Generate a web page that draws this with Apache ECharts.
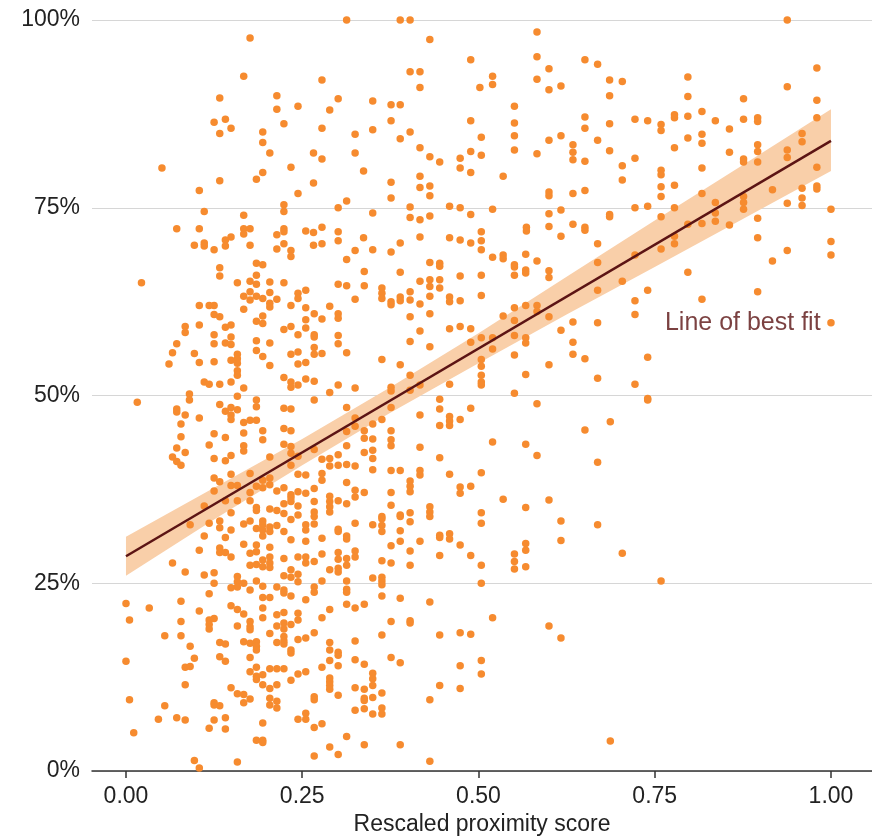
<!DOCTYPE html>
<html><head><meta charset="utf-8">
<script src="https://cdn.jsdelivr.net/npm/echarts@6/dist/echarts.min.js"></script>
<style>html,body{margin:0;padding:0;background:#fff}#c{width:872px;height:836px}</style>
</head><body><div id="c"></div>
<script>
// tick values
const xTicks = [0, 0.25, 0.5, 0.75, 1];
const yTicks = [0, 25, 50, 75, 100];
// fitted line (rescaled proximity score -> percent)
const fitX = [0, 1];
const fitY = [28.6, 83.9];
// confidence band
const bandX = [0, 0.125, 0.25, 0.375, 0.5, 0.625, 0.75, 0.875, 1];
const bandLow = [26.0, 33.5, 40.7, 47.7, 54.3, 60.8, 67.1, 73.5, 79.9];
const bandHigh = [31.2, 37.7, 44.2, 51.1, 58.3, 65.8, 73.3, 80.7, 88.1];
// annotation
const annotText = 'Line of best fit';
const annotPos = [0.7645, 59.6];
// observations: [rescaled proximity score, percent]
const points = [
[0.176,97.6],[0.167,92.5],[0.133,89.6],[0.214,89.9],[0.214,88.1],[0.244,88.5],[0.125,86.4],[0.141,86.8],[0.133,84.9],[0.149,85.6],[0.224,86.2],[0.194,85.1],[0.194,83.7],[0.204,82.3],[0.051,80.3],[0.234,80.4],[0.194,79.7],[0.185,78.8],[0.133,78.6],[0.104,77.3],[0.244,76.9],
[0.111,74.5],[0.167,74.0],[0.224,75.4],[0.224,74.5],[0.072,72.2],[0.104,72.2],[0.167,72.2],[0.176,72.2],[0.167,71.5],[0.224,72.2],[0.224,71.8],[0.214,71.4],[0.149,71.1],[0.141,70.7],[0.141,69.9],[0.097,70.0],[0.111,70.3],[0.111,69.9],[0.125,69.4],[0.176,70.0],[0.224,70.2],[0.214,69.5],[0.234,69.3],[0.234,68.5],[0.185,67.6],[0.194,67.4],[0.133,67.0],
[0.313,100],[0.389,100],[0.403,100],[0.431,97.4],[0.489,94.7],[0.278,92.0],[0.403,93.1],[0.417,93.1],[0.417,91.0],[0.502,91.0],[0.301,89.5],[0.289,88.0],[0.350,89.2],[0.376,88.7],[0.389,88.7],[0.376,86.6],[0.278,85.6],[0.350,85.4],[0.325,84.8],[0.403,85.1],[0.389,84.2],[0.489,86.6],[0.504,84.4],[0.266,82.3],[0.278,81.5],[0.325,82.3],[0.417,83.0],[0.431,81.8],[0.445,81.1],[0.474,81.6],[0.474,80.3],[0.489,82.5],[0.489,79.7],[0.504,82.0],[0.337,79.9],[0.266,78.3],[0.376,78.4],[0.417,79.2],[0.417,77.7],[0.431,77.9],[0.431,76.6],[0.313,75.9],[0.301,75.0],[0.376,76.3],[0.403,75.1],[0.459,75.2],[0.474,75.0],[0.489,74.1],[0.350,74.3],[0.403,73.7],[0.417,73.4],[0.431,73.9],[0.255,71.9],[0.266,71.7],[0.278,72.4],[0.301,71.8],[0.301,70.6],[0.266,70.0],[0.278,70.2],[0.337,71.0],[0.325,69.3],[0.313,68.1],[0.350,69.4],[0.376,69.1],[0.389,70.3],[0.417,71.1],[0.459,71.0],[0.474,70.7],[0.489,70.3],[0.504,71.8],[0.504,70.6],[0.504,69.4],[0.431,67.7],[0.445,67.6],[0.445,67.2],
[0.583,98.4],[0.583,95.1],[0.583,92.1],[0.600,93.5],[0.600,90.7],[0.617,91.2],[0.520,92.5],[0.520,91.4],[0.651,94.7],[0.669,94.1],[0.686,92.0],[0.686,89.9],[0.704,91.8],[0.551,88.5],[0.551,86.3],[0.551,84.6],[0.551,82.7],[0.583,82.2],[0.600,84.0],[0.617,84.6],[0.634,83.4],[0.634,82.4],[0.634,81.4],[0.651,87.1],[0.651,85.6],[0.651,81.2],[0.669,84.0],[0.686,86.2],[0.686,82.6],[0.704,80.6],[0.704,78.7],[0.722,86.8],[0.722,81.6],[0.740,86.6],[0.759,86.1],[0.759,85.3],[0.535,79.2],[0.600,77.1],[0.600,76.6],[0.634,76.9],[0.651,77.3],[0.520,74.8],[0.600,74.2],[0.617,74.7],[0.600,72.5],[0.634,72.8],[0.651,72.4],[0.651,72.0],[0.617,71.2],[0.568,72.4],[0.568,71.9],[0.669,70.2],[0.686,74.1],[0.686,73.8],[0.722,75.0],[0.740,75.2],[0.759,80.0],[0.759,79.4],[0.759,77.8],[0.759,76.5],[0.759,73.8],[0.520,68.4],[0.535,68.7],[0.535,68.2],[0.551,67.4],[0.551,67.1],[0.567,68.8],[0.583,67.9],[0.669,67.7],[0.722,68.7],
[0.938,100],[0.980,93.6],[0.938,91.1],[0.797,92.4],[0.797,89.8],[0.876,89.5],[0.980,89.3],[0.778,87.4],[0.778,87.0],[0.797,87.2],[0.817,87.8],[0.836,86.6],[0.856,85.5],[0.876,86.8],[0.896,87.0],[0.896,86.5],[0.980,87.0],[0.797,84.3],[0.817,84.8],[0.817,83.6],[0.778,83.0],[0.856,82.4],[0.876,81.5],[0.876,81.1],[0.896,83.4],[0.896,82.5],[0.896,81.1],[0.938,82.7],[0.938,81.7],[0.959,84.9],[0.959,83.8],[0.980,80.4],[0.980,77.9],[0.980,77.5],[0.817,80.3],[0.778,78.0],[0.817,76.9],[0.836,75.7],[0.836,74.3],[0.836,73.2],[0.876,76.5],[0.876,75.7],[0.876,74.8],[0.917,77.4],[0.938,75.6],[0.959,77.6],[0.959,76.3],[0.959,75.3],[1.0,74.8],[0.778,75.0],[0.797,72.8],[0.817,72.9],[0.856,72.7],[0.896,73.6],[0.778,71.2],[0.778,70.2],[0.759,69.5],[0.896,71.0],[1.0,70.5],[1.0,68.7],[0.938,69.3],[0.917,67.9],
[0.797,66.4],[0.817,62.8],[0.896,63.8],[1.0,59.7],
[0.133,65.9],[0.185,66.0],[0.022,65.0],[0.158,65.0],[0.176,65.2],[0.185,64.8],[0.204,65.1],[0.224,65.0],[0.244,63.6],[0.244,62.9],[0.167,63.2],[0.176,63.8],[0.176,62.7],[0.185,63.2],[0.194,62.9],[0.204,63.7],[0.204,62.3],[0.204,61.8],[0.214,62.8],[0.234,62.0],[0.167,61.5],[0.104,62.0],[0.118,62.0],[0.125,62.0],[0.125,60.8],[0.133,60.5],[0.194,60.6],[0.194,59.6],[0.185,59.9],[0.084,59.2],[0.084,58.4],[0.104,59.4],[0.141,59.1],[0.149,59.4],[0.125,58.1],[0.149,57.8],[0.224,58.8],[0.234,59.2],[0.244,58.1],[0.072,56.9],[0.125,56.9],[0.141,57.0],[0.149,56.8],[0.185,57.3],[0.204,57.0],[0.066,55.7],[0.097,55.6],[0.158,55.5],[0.158,54.9],[0.185,56.0],[0.194,55.2],[0.234,55.5],[0.244,55.8],[0.061,54.2],[0.104,54.4],[0.125,54.5],[0.149,54.7],[0.158,54.3],[0.204,54.0],[0.244,54.2],[0.158,53.3],[0.158,52.7],[0.224,52.4],[0.111,51.8],[0.118,51.5],[0.133,51.5],[0.149,51.8],[0.167,51.0],[0.234,51.8],[0.234,51.1],[0.244,51.4],[0.016,49.1],[0.090,50.2],[0.090,49.4],[0.158,49.9],[0.133,48.8],[0.185,49.4],[0.185,48.5],[0.224,48.3],[0.234,48.2],[0.072,48.2],[0.072,47.8],[0.084,47.4],[0.141,47.9],[0.149,48.4],[0.149,47.4],[0.149,46.8],[0.158,48.1],[0.104,47.0],[0.167,46.4],[0.176,46.7],[0.185,46.7],[0.078,46.2],[0.078,44.5],[0.125,44.9],[0.141,44.4],[0.167,45.0],[0.194,45.3],[0.194,44.1],[0.224,45.6],[0.234,45.3],[0.118,43.4],[0.072,43.0],[0.084,42.4],[0.167,43.3],[0.167,42.6],[0.224,43.5],[0.234,43.2],[0.066,41.8],[0.072,41.2],[0.078,40.7],[0.125,41.6],[0.141,41.3],[0.149,42.0],[0.204,41.8],[0.234,42.3],[0.244,41.9],[0.149,39.5],[0.176,39.6],[0.234,40.7],[0.244,39.5],[0.125,39.0],[0.133,38.5],[0.149,38.0],[0.158,38.0],[0.194,38.7],[0.204,39.0],[0.204,38.1],[0.185,37.9],[0.194,37.7],[0.176,37.1],[0.214,37.3],[0.224,37.7],[0.234,36.8],[0.234,36.4],[0.244,37.2],[0.125,37.3],[0.141,36.0],[0.158,36.0],[0.176,36.0],[0.111,35.3],[0.185,35.1],[0.185,34.7],[0.204,34.9],[0.214,34.7],[0.224,35.6],[0.224,34.3],[0.149,34.4],[0.234,35.9],[0.244,35.3],
[0.091,32.8],[0.118,33.0],[0.133,33.3],[0.133,32.4],[0.149,32.1],[0.167,32.9],[0.176,33.3],[0.185,32.3],[0.194,33.3],[0.194,32.8],[0.194,32.1],[0.204,32.5],[0.204,31.9],[0.214,32.7],[0.224,31.9],[0.234,33.5],[0.244,34.1],[0.111,31.3],[0.141,31.1],[0.194,31.3],[0.234,30.8],[0.104,29.4],[0.133,29.7],[0.133,29.1],[0.141,29.1],[0.149,28.5],[0.167,30.2],[0.176,29.0],[0.185,30.1],[0.185,29.2],[0.204,29.8],[0.204,28.5],[0.194,28.1],[0.194,27.2],[0.176,27.4],[0.185,27.5],[0.204,27.7],[0.204,27.1],[0.224,28.3],[0.234,26.8],[0.244,28.5],[0.066,27.7],[0.084,26.5],[0.111,26.1],[0.125,26.4],[0.125,25.0],[0.158,25.9],[0.158,25.2],[0.158,24.5],[0.149,24.4],[0.167,25.0],[0.176,24.1],[0.185,25.3],[0.194,24.6],[0.194,23.1],[0.204,23.1],[0.194,21.7],[0.194,20.4],[0.224,26.0],[0.234,25.8],[0.214,24.5],[0.224,24.1],[0.224,23.7],[0.234,23.3],[0.118,23.6],[0.0,22.3],[0.033,21.7],[0.078,22.6],[0.104,21.3],[0.149,22.0],[0.158,21.5],[0.167,20.9],[0.005,20.1],[0.078,19.9],[0.118,20.1],[0.118,19.5],[0.118,18.9],[0.125,20.3],[0.158,19.3],[0.176,19.9],[0.176,19.2],[0.176,18.8],[0.214,20.8],[0.224,21.1],[0.214,19.3],[0.224,19.7],[0.224,18.9],[0.234,19.5],[0.244,21.0],[0.244,20.1],[0.204,18.3],[0.224,17.9],[0.224,17.3],[0.214,17.1],[0.224,16.9],[0.055,18.0],[0.078,18.0],[0.091,16.6],[0.133,17.1],[0.141,16.9],[0.167,17.2],[0.176,17.0],[0.185,17.2],[0.185,16.6],[0.185,16.1],[0.234,16.1],[0.234,15.7],[0.244,17.5],[0.0,14.6],[0.097,15.0],[0.084,13.8],[0.091,13.9],[0.133,15.2],[0.141,14.6],[0.176,15.1],[0.176,13.2],[0.185,13.8],[0.185,12.6],[0.185,12.2],[0.194,12.8],[0.194,11.5],[0.204,13.6],[0.214,13.6],[0.224,13.6],[0.204,11.0],[0.214,11.5],[0.234,12.1],[0.244,12.9],[0.084,11.5],[0.149,11.1],[0.158,10.3],[0.167,10.2],[0.176,9.6],[0.167,9.1],[0.005,9.5],[0.055,8.7],[0.125,9.1],[0.125,8.8],[0.133,8.7],[0.204,9.7],[0.204,8.8],[0.214,9.3],[0.214,8.4],[0.046,6.9],[0.072,7.1],[0.084,6.8],[0.125,6.8],[0.141,7.1],[0.118,5.7],[0.141,5.6],[0.194,6.4],[0.244,6.9],[0.011,5.1],[0.185,4.1],[0.194,4.1],[0.194,3.8],[0.097,1.4],[0.104,0.4],[0.158,1.2],
[0.338,66.5],[0.389,66.4],[0.445,65.4],[0.445,64.3],[0.431,65.4],[0.431,64.5],[0.431,63.2],[0.431,60.9],[0.474,65.9],[0.504,66.0],[0.301,64.8],[0.313,64.6],[0.338,64.6],[0.363,64.3],[0.363,63.6],[0.363,62.9],[0.403,63.8],[0.403,62.7],[0.417,65.2],[0.417,62.2],[0.376,62.5],[0.376,62.1],[0.389,63.1],[0.389,62.6],[0.459,63.1],[0.459,62.5],[0.474,62.6],[0.504,63.3],[0.255,64.0],[0.325,62.8],[0.289,61.9],[0.255,61.7],[0.301,60.9],[0.301,60.3],[0.267,60.9],[0.278,60.2],[0.255,60.1],[0.255,59.0],[0.403,60.5],[0.267,58.1],[0.267,57.8],[0.301,58.0],[0.301,56.9],[0.417,58.6],[0.459,58.9],[0.474,59.2],[0.489,58.9],[0.403,57.2],[0.431,56.5],[0.489,57.1],[0.267,56.4],[0.267,55.5],[0.278,55.6],[0.313,55.7],[0.255,54.4],[0.363,54.8],[0.389,54.1],[0.403,52.7],[0.255,52.2],[0.267,51.9],[0.301,51.4],[0.325,51.0],[0.289,50.4],[0.376,51.1],[0.376,50.6],[0.403,50.7],[0.417,51.4],[0.459,51.5],[0.504,52.7],[0.267,49.4],[0.313,48.4],[0.376,48.4],[0.445,49.5],[0.445,48.2],[0.489,48.3],[0.417,47.4],[0.459,47.2],[0.459,46.6],[0.459,46.0],[0.474,46.8],[0.445,46.0],[0.325,47.0],[0.325,45.9],[0.363,46.8],[0.313,45.2],[0.350,46.2],[0.338,45.3],[0.376,45.3],[0.376,44.1],[0.376,43.3],[0.338,44.3],[0.350,44.2],[0.338,42.4],[0.350,42.7],[0.350,41.6],[0.313,43.3],[0.267,42.8],[0.417,43.1],[0.445,41.7],[0.278,41.5],[0.289,41.6],[0.301,42.1],[0.289,40.6],[0.301,40.7],[0.313,40.8],[0.325,40.6],[0.350,40.1],[0.255,39.4],[0.278,39.6],[0.278,38.7],[0.376,40.0],[0.389,40.0],[0.417,40.0],[0.417,39.4],[0.459,39.5],[0.313,38.4],[0.267,37.6],[0.403,38.6],[0.403,37.9],[0.403,37.2],[0.474,37.8],[0.474,37.0],[0.489,37.9],[0.255,37.0],[0.325,37.4],[0.325,36.5],[0.338,37.1],[0.289,36.6],[0.289,35.9],[0.289,35.2],[0.289,34.5],[0.267,35.9],[0.301,36.0],[0.313,35.6],[0.376,37.1],[0.376,35.4],[0.267,34.5],[0.267,33.9],[0.363,33.9],[0.389,34.1],[0.403,34.4],[0.431,35.2],[0.431,34.5],[0.431,33.9],
[0.255,32.8],[0.255,32.1],[0.267,32.9],[0.255,30.6],[0.278,31.0],[0.301,32.2],[0.301,31.9],[0.313,31.3],[0.313,30.9],[0.325,33.0],[0.350,32.8],[0.363,33.6],[0.363,32.7],[0.363,31.9],[0.389,33.9],[0.389,32.0],[0.389,30.6],[0.403,33.2],[0.403,29.3],[0.403,27.4],[0.445,31.4],[0.445,31.1],[0.459,31.6],[0.459,30.9],[0.417,30.6],[0.474,30.1],[0.376,30.0],[0.504,33.0],[0.504,27.4],[0.255,28.5],[0.255,27.7],[0.267,27.9],[0.278,28.9],[0.301,29.1],[0.301,28.2],[0.313,28.3],[0.313,27.4],[0.325,29.3],[0.325,28.5],[0.289,26.8],[0.301,27.0],[0.301,26.5],[0.363,28.0],[0.376,27.7],[0.445,28.7],[0.489,28.7],[0.244,26.2],[0.244,25.2],[0.278,25.3],[0.313,25.3],[0.350,25.7],[0.363,25.8],[0.363,25.3],[0.363,24.8],[0.267,24.5],[0.267,23.8],[0.313,24.2],[0.313,23.8],[0.255,22.8],[0.313,22.2],[0.325,21.7],[0.338,22.2],[0.363,23.3],[0.389,23.0],[0.431,22.5],[0.504,25.0],[0.278,20.4],[0.289,21.5],[0.376,19.9],[0.403,20.0],[0.403,19.7],[0.267,18.4],[0.255,17.7],[0.289,17.1],[0.289,16.1],[0.301,15.8],[0.301,15.4],[0.325,17.3],[0.363,18.1],[0.445,18.1],[0.474,18.4],[0.489,18.2],[0.289,14.7],[0.301,14.0],[0.325,14.8],[0.338,14.2],[0.278,13.8],[0.376,15.1],[0.389,14.4],[0.474,14.0],[0.504,14.7],[0.255,13.2],[0.289,12.4],[0.289,11.9],[0.289,11.4],[0.289,10.9],[0.350,13.0],[0.350,12.3],[0.350,11.4],[0.325,11.1],[0.338,10.9],[0.363,10.4],[0.301,10.1],[0.267,9.9],[0.267,9.5],[0.338,9.7],[0.338,9.4],[0.350,9.8],[0.504,12.9],[0.445,11.4],[0.474,11.0],[0.431,9.5],[0.325,8.1],[0.338,8.3],[0.350,7.6],[0.363,8.4],[0.363,7.6],[0.255,7.7],[0.255,6.9],[0.267,5.8],[0.278,6.3],[0.313,4.6],[0.289,3.2],[0.301,2.2],[0.267,2.0],[0.338,3.5],[0.389,3.5],[0.431,1.3],
[0.617,33.3],[0.669,32.8],[0.617,30.7],[0.567,30.3],[0.567,29.4],[0.551,28.9],[0.551,27.9],[0.551,26.9],[0.567,27.2],[0.704,29.0],[0.520,20.4],[0.600,19.3],[0.617,17.7],[0.687,4.0],[0.759,25.3],
[0.551,66.0],[0.567,66.7],[0.567,66.3],[0.600,66.6],[0.600,65.7],[0.704,65.2],[0.669,64.0],[0.740,64.0],[0.722,62.6],[0.722,60.8],[0.535,60.6],[0.551,61.7],[0.551,60.0],[0.551,58.0],[0.567,62.0],[0.583,62.0],[0.583,61.2],[0.600,60.5],[0.617,58.7],[0.634,59.8],[0.669,59.7],[0.504,57.7],[0.520,57.7],[0.520,56.2],[0.567,57.7],[0.567,57.0],[0.634,57.1],[0.634,55.5],[0.651,54.9],[0.551,55.4],[0.600,54.1],[0.740,55.1],[0.504,54.8],[0.504,53.9],[0.504,51.8],[0.504,51.4],[0.567,52.8],[0.669,52.3],[0.722,51.5],[0.551,50.3],[0.740,49.6],[0.740,49.4],[0.583,48.9],[0.687,46.5],[0.651,45.4],[0.520,43.8],[0.567,43.5],[0.583,42.0],[0.669,41.1],[0.504,39.7],[0.535,36.2],[0.567,35.1],[0.600,36.1],[0.504,34.4]
];

const FONT = '"Liberation Sans", Arial, Helvetica, sans-serif';
const chart = echarts.init(document.getElementById('c'), null, {renderer: 'canvas'});
chart.setOption({
  animation: false,
  backgroundColor: '#ffffff',
  textStyle: {fontFamily: FONT},
  grid: {left: 92, right: 0, top: 20, bottom: 65, containLabel: false, outerBoundsMode: 'none'},
  xAxis: {
    type: 'value', min: -0.0482, max: 1.0582,
    axisLine: {show: true, onZero: false, lineStyle: {color: '#333333', width: 1.5}},
    axisTick: {show: true, customValues: xTicks, length: 7, lineStyle: {color: '#333333', width: 1.5}},
    axisLabel: {customValues: xTicks, formatter: v => v.toFixed(2), fontSize: 23, color: '#222222', margin: 14, fontFamily: FONT},
    splitLine: {show: false},
    name: 'Rescaled proximity score', nameLocation: 'middle', nameGap: 39,
    nameTextStyle: {fontSize: 23, color: '#222222', fontFamily: FONT}
  },
  yAxis: {
    type: 'value', min: yTicks[0], max: yTicks[yTicks.length - 1], interval: 25,
    axisLine: {show: false}, axisTick: {show: false},
    axisLabel: {formatter: '{value}%', fontSize: 23, color: '#222222', margin: 12, fontFamily: FONT},
    splitLine: {show: true, lineStyle: {color: '#d6d6d6', width: 1}}
  },
  series: [
    {
      type: 'custom', name: 'band', silent: true, z: 1,
      data: [0],
      renderItem: function (params, api) {
        const pts = [];
        for (let i = 0; i < bandX.length; i++) pts.push(api.coord([bandX[i], bandHigh[i]]));
        for (let i = bandX.length - 1; i >= 0; i--) pts.push(api.coord([bandX[i], bandLow[i]]));
        return {type: 'polygon', shape: {points: pts}, style: {fill: '#f9cfa9'}};
      }
    },
    {
      type: 'scatter', name: 'obs', z: 2, clip: false,
      symbolSize: 7.5,
      itemStyle: {color: '#f68b2f', opacity: 1},
      data: points
    },
    {
      type: 'line', name: 'fit', z: 3, symbol: 'none', silent: true,
      lineStyle: {color: '#5c1414', width: 2.5},
      data: fitX.map((x, i) => [x, fitY[i]])
    },
    {
      type: 'scatter', name: 'annot', z: 4, silent: true, symbolSize: 0,
      data: [annotPos],
      label: {show: true, formatter: annotText, position: 'right', distance: 0,
        fontSize: 25, color: '#5a1212', fontFamily: FONT}
    }
  ]
});
</script>
</body></html>
